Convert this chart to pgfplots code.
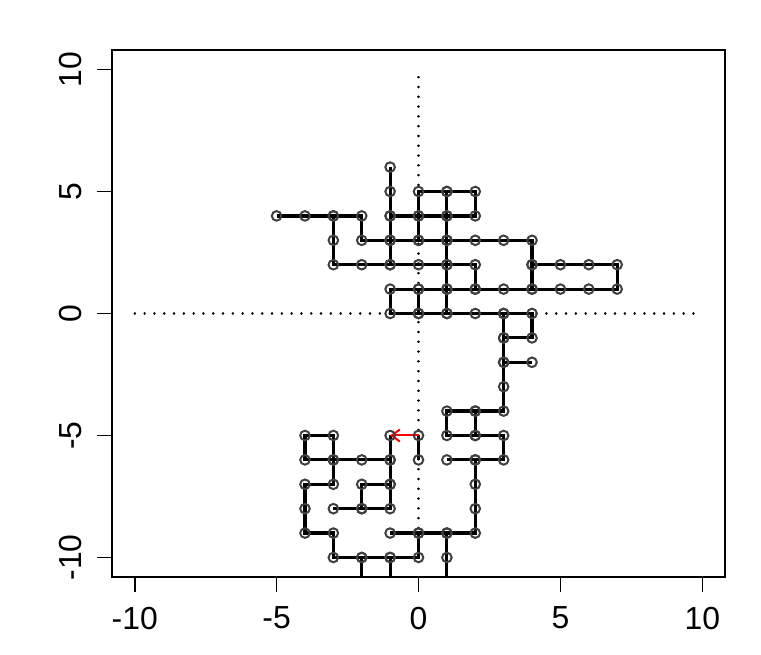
\documentclass[border=0pt]{standalone}
\usepackage{fontspec}
\setmainfont{Liberation Sans}
\usepackage{pgfplots}
\pgfplotsset{compat=1.18}
\usetikzlibrary{arrows.meta}
\begin{document}
\begin{tikzpicture}
\begin{axis}[
  name=ax, scale only axis,
  width=306.5bp, height=263.5bp,
  xmin=-10.8, xmax=10.8, ymin=-10.8, ymax=10.8,
  axis line style={line width=1bp},
  tick style={line width=0.8bp, black},
  tick align=outside, major tick length=7.5bp,
  xtick={-10,-5,0,5,10}, ytick={-10,-5,0,5,10},
  xticklabels={-10,-5,0,5,10}, yticklabels={-10,-5,0,5,10},
  xtick pos=left, ytick pos=left,
  tick label style={font=\fontsize{16}{19}\selectfont},
  yticklabel style={rotate=90, anchor=south},
  xticklabel shift=4bp, yticklabel shift=4bp,
  unbounded coords=jump,
]
% reference lines
\addplot[black, line width=1.2bp, line cap=round, dash pattern=on 0.1bp off 4.8bp] coordinates {(-10,0)(10,0)};
\addplot[black, line width=1.2bp, line cap=round, dash pattern=on 0.1bp off 4.8bp] coordinates {(0,-10)(0,10)};
% lattice walk, pieces split by nan
\addplot[black, line width=1.6bp, mark=o, mark size=2.4bp,
  mark options={line width=1bp, black!75}] coordinates {
  (-5,4)(-4,4)(-3,4)(-2,4)(-2,3)(-1,3)(0,3)(1,3)(2,3)(3,3)(4,3)(4,2)(4,1)
  (nan,nan)
  (-3,4)(-3,3)(-3,2)(-2,2)(-1,2)(0,2)(1,2)(2,2)(2,1)
  (nan,nan)
  (-1,6)(-1,5)(-1,4)(-1,3)(-1,2)
  (nan,nan)
  (-1,4)(0,4)(1,4)(2,4)(2,5)(1,5)(0,5)(0,4)(0,3)
  (nan,nan)
  (1,5)(1,4)(1,3)(1,2)(1,1)(1,0)
  (nan,nan)
  (4,2)(5,2)(6,2)(7,2)(7,1)(6,1)(5,1)(4,1)(3,1)(2,1)(1,1)(0,1)(-1,1)
  (-1,0)(0,0)(1,0)(2,0)(3,0)(4,0)(4,-1)(3,-1)
  (nan,nan)
  (0,1)(0,0)
  (nan,nan)
  (3,0)(3,-1)(3,-2)(4,-2)
  (nan,nan)
  (3,-2)(3,-3)(3,-4)(2,-4)(1,-4)(1,-5)(2,-5)(3,-5)(3,-6)(2,-6)(1,-6)
  (nan,nan)
  (2,-4)(2,-5)
  (nan,nan)
  (2,-6)(2,-7)(2,-8)(2,-9)(1,-9)(0,-9)(-1,-9)
  (nan,nan)
  (1,-9)(1,-10)(1,-11)
  (nan,nan)
  (0,-9)(0,-10)(-1,-10)(-2,-10)(-3,-10)(-3,-9)(-4,-9)(-4,-8)(-4,-7)(-3,-7)
  (-3,-6)(-3,-5)(-4,-5)(-4,-6)(-3,-6)(-2,-6)(-1,-6)(-1,-5)
  (nan,nan)
  (-1,-6)(-1,-7)(-1,-8)(-2,-8)(-3,-8)
  (nan,nan)
  (-1,-7)(-2,-7)(-2,-8)
  (nan,nan)
  (-2,-10)(-2,-11)
  (nan,nan)
  (-1,-10)(-1,-11)
  (nan,nan)
  (0,-5)(0,-6)
};
% last step
\addplot[red, line width=1bp, -{Straight Barb[length=4bp,width=6bp]}]
  coordinates {(0,-5)(-1,-5)};
\end{axis}
\pgfresetboundingbox
\path[use as bounding box] ([xshift=-56bp,yshift=-39bp]ax.south west)
  rectangle ([xshift=18bp,yshift=25bp]ax.north east);
\end{tikzpicture}
\end{document}
